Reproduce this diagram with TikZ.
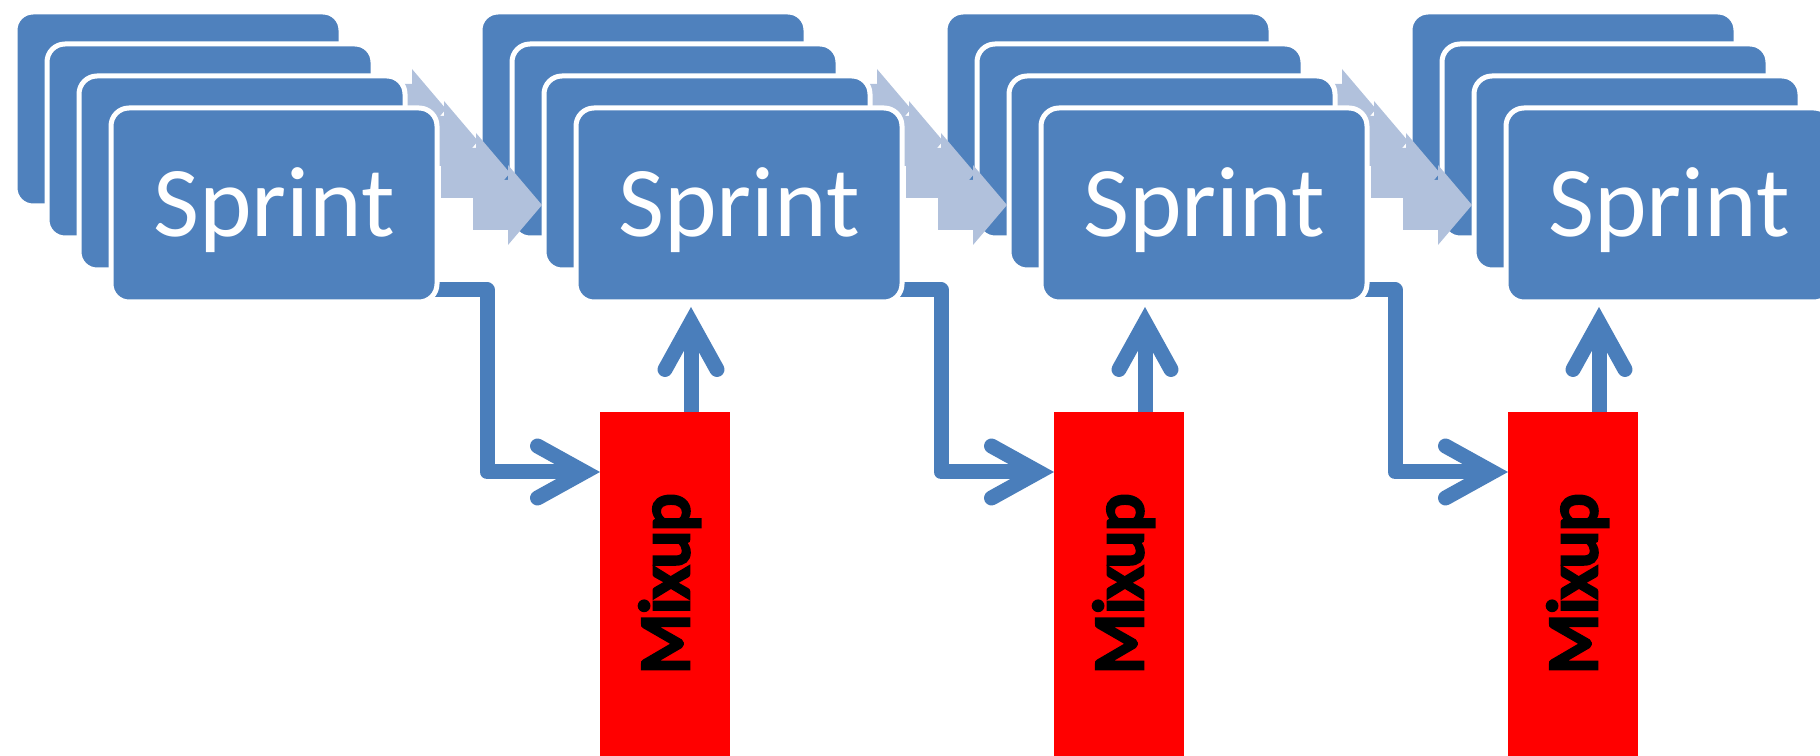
\documentclass[tikz,border=0pt]{standalone}
\usepackage{fontspec}
\setmainfont{Carlito}
\newfontfamily\mixfont{Carlito}[FakeBold=6]
\usetikzlibrary{arrows.meta}
\definecolor{cardblue}{RGB}{79,129,189}
\definecolor{flowblue}{RGB}{74,126,187}
\definecolor{stepblue}{RGB}{177,193,220}
\pgfdeclarelayer{bg}
\pgfsetlayers{bg,main}

\begin{document}
\begin{tikzpicture}[
  card/.style={rectangle, rounded corners=0.18cm, minimum width=3.26cm, minimum height=1.94cm,
    inner sep=0pt, outer sep=0pt, fill=cardblue, draw=white, line width=0.05cm,
    text=white, text depth=0.06cm, font=\fontsize{28.5}{30}\selectfont},
  mixbox/.style={rectangle, fill=red, minimum width=1.3cm, minimum height=3.44cm,
    inner sep=0pt, outer sep=0pt, font=\mixfont\fontsize{20}{22}\selectfont},
  flow/.style={draw=flowblue, line width=0.15cm, line join=round,
    -{Straight Barb[length=0.47cm, width=0.52cm, line cap=round, line join=miter]}}
]
\useasboundingbox (0,0) rectangle (18.2,7.56);

\foreach \k in {0,1,2} {
  \foreach \s in {0,...,3}
    \node[card] (c\s\k) at ({1.78+4.65*\s+0.32*\k},{6.47-0.32*\k}) {};
  \foreach \s in {0,1,2}
    \fill[stepblue] ([xshift=0.36cm]c\s\k.east) -- ++(0,0.25) -- ++(0.35,0) -- ++(0,0.15)
      -- ++(0.34,-0.4) -- ++(-0.34,-0.4) -- ++(0,0.15) -- ++(-0.35,0) -- cycle;
}
\foreach \s in {0,...,3}
  \node[card] (c\s3) at ({2.74+4.65*\s},5.51) {Sprint};
\foreach \s in {0,1,2}
  \fill[stepblue] ([xshift=0.36cm]c\s3.east) -- ++(0,0.25) -- ++(0.35,0) -- ++(0,0.15)
    -- ++(0.34,-0.4) -- ++(-0.34,-0.4) -- ++(0,0.15) -- ++(-0.35,0) -- cycle;

\foreach \j in {0,1,2}
  \node[mixbox] (m\j) at ({6.65+4.54*\j},1.72)
    {\rotatebox{90}{\raisebox{0pt}[0.66em][0pt]{Mixup}}};

\begin{pgfonlayer}{bg}
\foreach \j/\n in {0/1,1/2,2/3} {
  \draw[flow] ([xshift=-0.2cm,yshift=0.12cm]c\j3.south east)
    -| ([xshift=-1.13cm,yshift=-0.6cm]m\j.north west) -- ([yshift=-0.6cm]m\j.north west);
  \coordinate (u\j) at ([xshift=0.91cm]m\j.north west);
  \draw[flow, shorten >=0.05cm] (u\j) -- (u\j |- c\n3.south);
}
\end{pgfonlayer}
\end{tikzpicture}
\end{document}
